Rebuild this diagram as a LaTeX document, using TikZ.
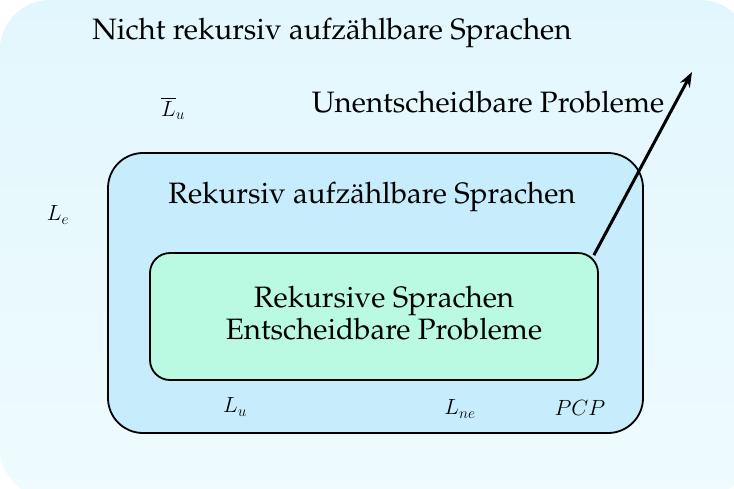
\RequirePackage{fix-cm}
\documentclass[tikz,border=0pt]{standalone}
\usepackage[T1]{fontenc}
\renewcommand{\rmdefault}{ppl}
\usepackage{amssymb}
\usepackage{tikz}
\usetikzlibrary{
    arrows.meta,
    shapes,
    positioning
}
\definecolor{bgtop}{RGB}{226,247,253}
\definecolor{bgbottom}{RGB}{239,251,254}
\definecolor{refill}{RGB}{199,236,251}
\definecolor{rsfill}{RGB}{186,250,226}

\begin{document}
\begin{tikzpicture}[x=1pt, y=-1pt,
        bigtext/.style={font=\fontsize{29.5}{32}\selectfont, inner sep=0pt, align=center},
        lang/.style={font=\fontsize{22}{24}\selectfont, inner sep=0pt},
        box/.style={draw, line width=1.8pt, rectangle}]
                        \useasboundingbox (0,0) rectangle (734,488);
                        \shade[top color=bgtop, bottom color=bgbottom, rounded corners=50pt] (0,0) rectangle (750,498);
                        \node[box, fill=refill, rounded corners=35pt, minimum width=535pt, minimum height=280pt] (re) at (375.5,293) {};
                        \node[box, fill=rsfill, rounded corners=20pt, minimum width=448pt, minimum height=127pt] (rs) at (374,316.5) {};
                        \node[bigtext] (nre) at (332,33) {Nicht rekursiv aufz\"ahlbare Sprachen};
                        \node[bigtext] (unent) at (488,102) {Unentscheidbare Probleme};
                        \node[bigtext] (retext) at (372,197) {Rekursiv aufz\"ahlbare Sprachen};
                        \node[bigtext] (rstext) at (384,313) {Rekursive Sprachen\\Entscheidbare Probleme};
                        \node[lang] (lubar) at (173,108) {$\overline{L}_u$};
                        \node[lang] (le) at (58,215) {$L_e$};
                        \node[lang] (lu) at (235,407) {$L_u$};
                        \node[lang] (lne) at (460,409) {$L_{ne}$};
                        \node[lang] (pcp) at (580,408) {$PCP$};
                        \coordinate (tip) at (692,72);
                        \draw[line width=3pt, -{Stealth[length=15pt, width=11pt]}]
                        ([xshift=-5pt, yshift=-3pt]rs.north east) -- (tip);
                    \end{tikzpicture}
\end{document}
